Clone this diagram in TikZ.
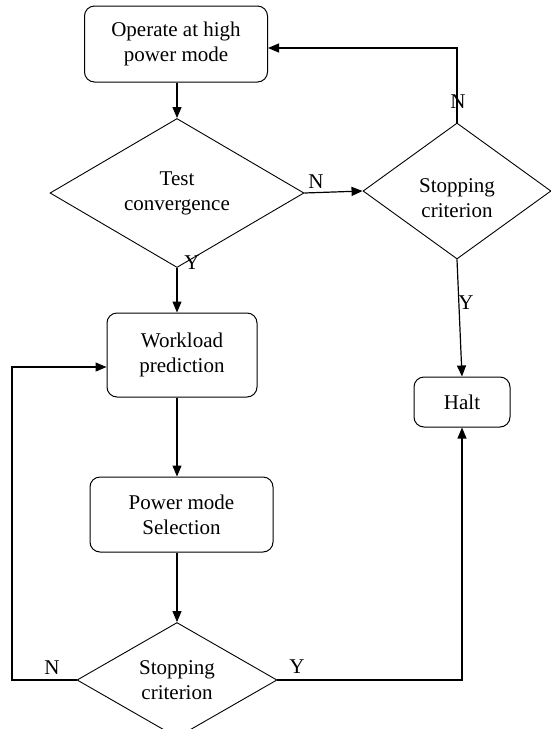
\documentclass[tikz,border=0pt]{standalone}
\usepackage{fontspec}
\setmainfont{Liberation Serif}
\usetikzlibrary{shapes.geometric,arrows.meta}
\begin{document}
\begin{tikzpicture}[x=1pt,y=-1pt,
  box/.style={draw,rounded corners=10pt,line width=1pt,align=center,inner sep=0pt},
  dia/.style={draw,diamond,line width=0.9pt,align=center,inner sep=0pt},
  arr/.style={line width=1.2pt,-{Triangle[length=11pt,width=9pt]}},
  ln/.style={line width=1.2pt},
  lab/.style={inner sep=0pt},
  font=\fontsize{21}{25}\selectfont]
\useasboundingbox (0,0) rectangle (551,729);
\node[box,minimum width=183pt,minimum height=76pt] (top) at (176,44) {Operate at high\\power mode};
\node[dia,minimum width=254pt,minimum height=113pt] (tc) at (177,193) {Test\\convergence};
\node[dia,minimum width=188pt,minimum height=136pt,label={[yshift=-7pt,align=center,inner sep=0pt]center:Stopping\\criterion}] (rd) at (457,191) {};
\node[box,minimum width=150pt,minimum height=84pt] (wp) at (182,355) {Workload\\prediction};
\node[box,minimum width=96pt,minimum height=50pt] (halt) at (462,402) {Halt};
\node[box,minimum width=183pt,minimum height=75pt] (pm) at (181.5,514.5) {Power mode\\Selection};
\node[dia,minimum width=200pt,minimum height=106pt] (bd) at (177,680) {Stopping\\criterion};
\coordinate (c1) at (12,680);
\coordinate (c2) at (12,367);
\coordinate (c3) at (457,48);
% connectors
\draw[arr] (top.south -| tc.north) -- (tc.north);
\draw[arr] (tc.east) -- (rd.west);
\draw[arr] (rd.north) -- (c3) -- (top.east |- c3);
\draw[arr] (tc.south) -- (tc.south |- wp.north);
\draw[arr] (rd.south) -- (halt.north);
\draw[arr] (wp.south -| tc.south) -- (tc.south |- pm.north);
\draw[arr] (pm.south -| bd.north) -- (bd.north);
\draw[arr] (bd.west) -- (c1) -- (c2) -- (wp.west |- c2);
\draw[arr] (bd.east) -- (halt.south |- bd.east) -- (halt.south);
% labels
\node[lab] (l1) at (316,182) {N};
\node[lab] (l2) at (458,102) {N};
\node[lab] (l3) at (192,263) {Y};
\node[lab] (l4) at (466,303) {Y};
\node[lab] (l5) at (52,668) {N};
\node[lab] (l6) at (297,667) {Y};
\end{tikzpicture}
\end{document}
